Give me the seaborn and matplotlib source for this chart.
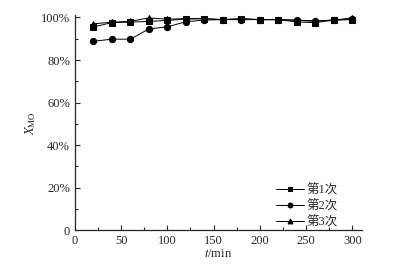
import pandas as pd
import matplotlib
matplotlib.use('Agg')
import matplotlib.pyplot as plt
import seaborn as sns
from matplotlib.ticker import MultipleLocator, FuncFormatter

# 数据
时间 = [20, 40, 60, 80, 100, 120, 140, 160, 180, 200, 220, 240, 260, 280, 300]
第1次 = [95.5, 97.6, 97.8, 98.2, 98.6, 99.3, 99.4, 99.0, 99.4, 99.0, 99.0, 97.9, 97.6, 98.8, 99.0]
第2次 = [88.8, 89.8, 89.8, 94.6, 95.6, 98.0, 98.8, 99.0, 99.0, 99.0, 99.0, 98.8, 98.4, 98.8, 99.3]
第3次 = [97.0, 97.8, 98.2, 99.8, 99.2, 99.5, 99.5, 99.0, 99.4, 99.0, 99.0, 98.6, 98.2, 98.8, 99.8]
系列名 = ['第1次', '第2次', '第3次']
标记 = ['s', 'o', '^']

df = pd.DataFrame({'t': 时间 * 3,
                   'x': 第1次 + 第2次 + 第3次,
                   '次数': sum([[n] * len(时间) for n in 系列名], [])})

sns.set_style('ticks')
plt.rcParams['font.family'] = ['Liberation Serif', 'Noto Sans CJK SC', 'DejaVu Sans']
plt.rcParams['mathtext.fontset'] = 'stix'

fig = plt.figure(figsize=(4.11, 2.65), dpi=100)
ax = fig.add_axes([0.182, 0.132, 0.698, 0.81])

sns.lineplot(data=df, x='t', y='x', hue='次数', style='次数',
             palette=['black'] * 3, markers=标记, dashes=False,
             markersize=4.5, linewidth=0.7, markeredgecolor='black', ax=ax)

ax.set_xlim(0, 310)
ax.set_ylim(0, 101)
ax.xaxis.set_major_locator(MultipleLocator(50))
ax.xaxis.set_minor_locator(MultipleLocator(25))
ax.yaxis.set_major_locator(MultipleLocator(20))
ax.yaxis.set_minor_locator(MultipleLocator(10))
ax.yaxis.set_major_formatter(FuncFormatter(lambda v, p: '0' if v == 0 else f'{int(v)}%'))
ax.tick_params(which='both', direction='in', labelsize=9, width=0.8)
ax.tick_params(which='major', length=3.5)
ax.tick_params(which='minor', length=2)
sns.despine(ax=ax)
for s in ['left', 'bottom']:
    ax.spines[s].set_linewidth(0.9)

ax.set_xlabel('$t$/min', fontsize=9, labelpad=1)
ax.set_ylabel('$X_{\\mathrm{MO}}$', fontsize=9, labelpad=2)

for h in ax.get_legend_handles_labels()[0]:
    h.set_markersize(3.5)
leg = ax.legend(title=None, frameon=False, fontsize=9, loc='lower right',
                bbox_to_anchor=(0.955, -0.045), handlelength=2.2, handletextpad=0.2,
                labelspacing=0.3)

fig.savefig('out.png', dpi=100)
